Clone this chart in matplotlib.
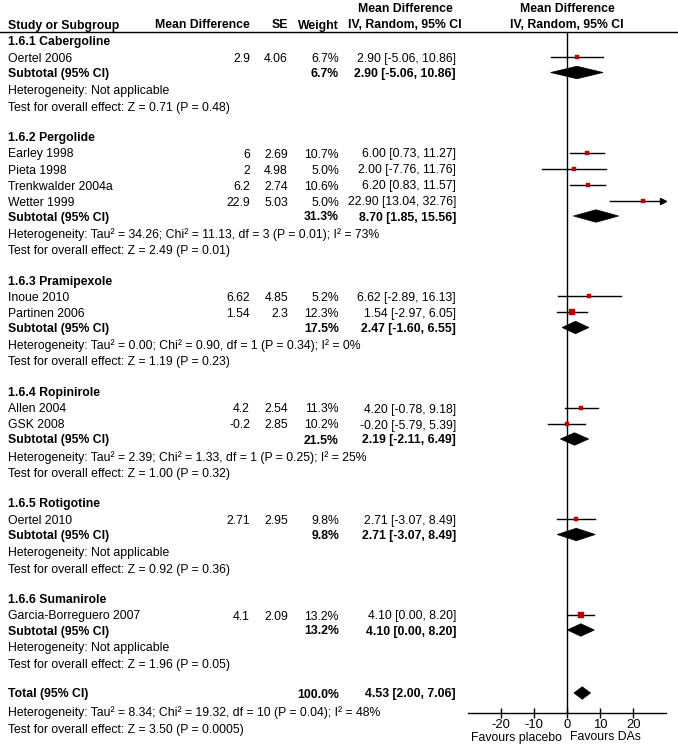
import numpy as np
import matplotlib
matplotlib.use("Agg")
import matplotlib.pyplot as plt
from matplotlib.patches import Polygon

plt.rcParams['font.family'] = ['Liberation Sans', 'DejaVu Sans']

# ---------------- data ----------------
group_names = ["1.6.1 Cabergoline", "1.6.2 Pergolide", "1.6.3 Pramipexole",
               "1.6.4 Ropinirole", "1.6.5 Rotigotine", "1.6.6 Sumanirole"]

study_names = [["Oertel 2006"],
               ["Earley 1998", "Pieta 1998", "Trenkwalder 2004a", "Wetter 1999"],
               ["Inoue 2010", "Partinen 2006"],
               ["Allen 2004", "GSK 2008"],
               ["Oertel 2010"],
               ["Garcia-Borreguero 2007"]]
study_md_txt = [["2.9"], ["6", "2", "6.2", "22.9"], ["6.62", "1.54"], ["4.2", "-0.2"], ["2.71"], ["4.1"]]
study_se_txt = [["4.06"], ["2.69", "4.98", "2.74", "5.03"], ["4.85", "2.3"], ["2.54", "2.85"], ["2.95"], ["2.09"]]
study_weight = [[6.7], [10.7, 5.0, 10.6, 5.0], [5.2, 12.3], [11.3, 10.2], [9.8], [13.2]]
study_mean = [[2.90], [6.00, 2.00, 6.20, 22.90], [6.62, 1.54], [4.20, -0.20], [2.71], [4.10]]
study_lo = [[-5.06], [0.73, -7.76, 0.83, 13.04], [-2.89, -2.97], [-0.78, -5.79], [-3.07], [0.00]]
study_hi = [[10.86], [11.27, 11.76, 11.57, 32.76], [16.13, 6.05], [9.18, 5.39], [8.49], [8.20]]

sub_weight = [6.7, 31.3, 17.5, 21.5, 9.8, 13.2]
sub_mean = [2.90, 8.70, 2.47, 2.19, 2.71, 4.10]
sub_lo = [-5.06, 1.85, -1.60, -2.11, -3.07, 0.00]
sub_hi = [10.86, 15.56, 6.55, 6.49, 8.49, 8.20]
sub_het = ["Heterogeneity: Not applicable",
           "Heterogeneity: Tau\u00b2 = 34.26; Chi\u00b2 = 11.13, df = 3 (P = 0.01); I\u00b2 = 73%",
           "Heterogeneity: Tau\u00b2 = 0.00; Chi\u00b2 = 0.90, df = 1 (P = 0.34); I\u00b2 = 0%",
           "Heterogeneity: Tau\u00b2 = 2.39; Chi\u00b2 = 1.33, df = 1 (P = 0.25); I\u00b2 = 25%",
           "Heterogeneity: Not applicable",
           "Heterogeneity: Not applicable"]
sub_test = ["Test for overall effect: Z = 0.71 (P = 0.48)",
            "Test for overall effect: Z = 2.49 (P = 0.01)",
            "Test for overall effect: Z = 1.19 (P = 0.23)",
            "Test for overall effect: Z = 1.00 (P = 0.32)",
            "Test for overall effect: Z = 0.92 (P = 0.36)",
            "Test for overall effect: Z = 1.96 (P = 0.05)"]

total_weight = 100.0
total_mean, total_lo, total_hi = 4.53, 2.00, 7.06
total_het = "Heterogeneity: Tau\u00b2 = 8.34; Chi\u00b2 = 19.32, df = 10 (P = 0.04); I\u00b2 = 48%"
total_test = "Test for overall effect: Z = 3.50 (P = 0.0005)"

xticks = [-20, -10, 0, 10, 20]
xlim = (-30, 30)

# ---------------- layout (pixels) ----------------
W, H = 678, 752
fs = 8.8
dy = 1.5  # text centre offset vs. visual row centre
x_study, x_md, x_se, x_w, x_ci = 8, 250, 288, 339, 456
x0, ppu = 567.3, 3.3
ax_left = x0 + xlim[0] * ppu
ax_w = (xlim[1] - xlim[0]) * ppu
y_top, y_axis = 32, 712.5
red = "#c00000"

fig = plt.figure(figsize=(W / 100, H / 100), dpi=100)
ax = fig.add_axes([0, 0, 1, 1])
ax.set_xlim(0, W)
ax.set_ylim(H, 0)
ax.axis("off")

fa = fig.add_axes([ax_left / W, (H - y_axis) / H, ax_w / W, (y_axis - y_top) / H])
fa.set_xlim(*xlim)
fa.set_ylim(y_axis, y_top)
fa.patch.set_alpha(0)
for s in ["top", "left", "right"]:
    fa.spines[s].set_visible(False)
fa.spines["bottom"].set_linewidth(1)
fa.set_yticks([])
fa.set_xticks(xticks)
fa.set_xticklabels([str(t) for t in xticks], fontsize=fs + 0.6)
fa.tick_params(axis="x", direction="inout", length=7, width=1, pad=1)
fa.axvline(0, color="black", lw=1)

def txt(x, y, s, ha="left", bold=False):
    ax.text(x, y + dy, s, ha=ha, va="center", fontsize=fs,
            fontweight="bold" if bold else "normal")

def diamond(y, m, lo, hi, h=12.5):
    fa.add_patch(Polygon([(lo, y), (m, y - h / 2), (hi, y), (m, y + h / 2)],
                         closed=True, facecolor="black", edgecolor="black", lw=0.5))

# header
ax.plot([0, W], [y_top, y_top], color="black", lw=1)
txt(x_study, 24, "Study or Subgroup", bold=True)
txt(x_md, 24, "Mean Difference", ha="right", bold=True)
txt(x_se, 24, "SE", ha="right", bold=True)
txt(x_w, 24, "Weight", ha="right", bold=True)
txt(405, 8, "Mean Difference", ha="center", bold=True)
txt(405, 24, "IV, Random, 95% CI", ha="center", bold=True)
txt(567, 8, "Mean Difference", ha="center", bold=True)
txt(567, 24, "IV, Random, 95% CI", ha="center", bold=True)

y = 41
for g in range(len(group_names)):
    txt(x_study, y, group_names[g], bold=True)
    y += 16.5
    for i in range(len(study_names[g])):
        if i > 0:
            y += 16
        txt(x_study, y, study_names[g][i])
        txt(x_md, y, study_md_txt[g][i], ha="right")
        txt(x_se, y, study_se_txt[g][i], ha="right")
        txt(x_w, y, "%.1f%%" % study_weight[g][i], ha="right")
        m, lo, hi = study_mean[g][i], study_lo[g][i], study_hi[g][i]
        txt(x_ci, y, "%.2f [%.2f, %.2f]" % (m, lo, hi), ha="right")
        if hi > xlim[1]:
            fa.plot([lo, xlim[1] - 1.2], [y, y], color="black", lw=1)
            fa.plot([xlim[1] - 0.9], [y], marker=">", color="black", ms=4.5)
        else:
            fa.plot([lo, hi], [y, y], color="black", lw=1)
        side = 1.45 * np.sqrt(study_weight[g][i]) * 0.72
        fa.plot([m], [y], marker="s", color=red, ms=side, mec=red, mew=0.3)
    y += 15
    txt(x_study, y, "Subtotal (95% CI)", bold=True)
    txt(x_w, y, "%.1f%%" % sub_weight[g], ha="right", bold=True)
    txt(x_ci, y, "%.2f [%.2f, %.2f]" % (sub_mean[g], sub_lo[g], sub_hi[g]), ha="right", bold=True)
    diamond(y, sub_mean[g], sub_lo[g], sub_hi[g])
    y += 17
    txt(x_study, y, sub_het[g])
    y += 16.5
    txt(x_study, y, sub_test[g])
    y += 30.5

y -= 1
txt(x_study, y, "Total (95% CI)", bold=True)
txt(x_w, y, "%.1f%%" % total_weight, ha="right", bold=True)
txt(x_ci, y, "%.2f [%.2f, %.2f]" % (total_mean, total_lo, total_hi), ha="right", bold=True)
diamond(y, total_mean, total_lo, total_hi)
y += 18
txt(x_study, y, total_het)
y += 17
txt(x_study, y, total_test)

txt(562, 736, "Favours placebo", ha="right")
txt(570, 736, "Favours DAs")

fig.savefig("out.png", dpi=100)
